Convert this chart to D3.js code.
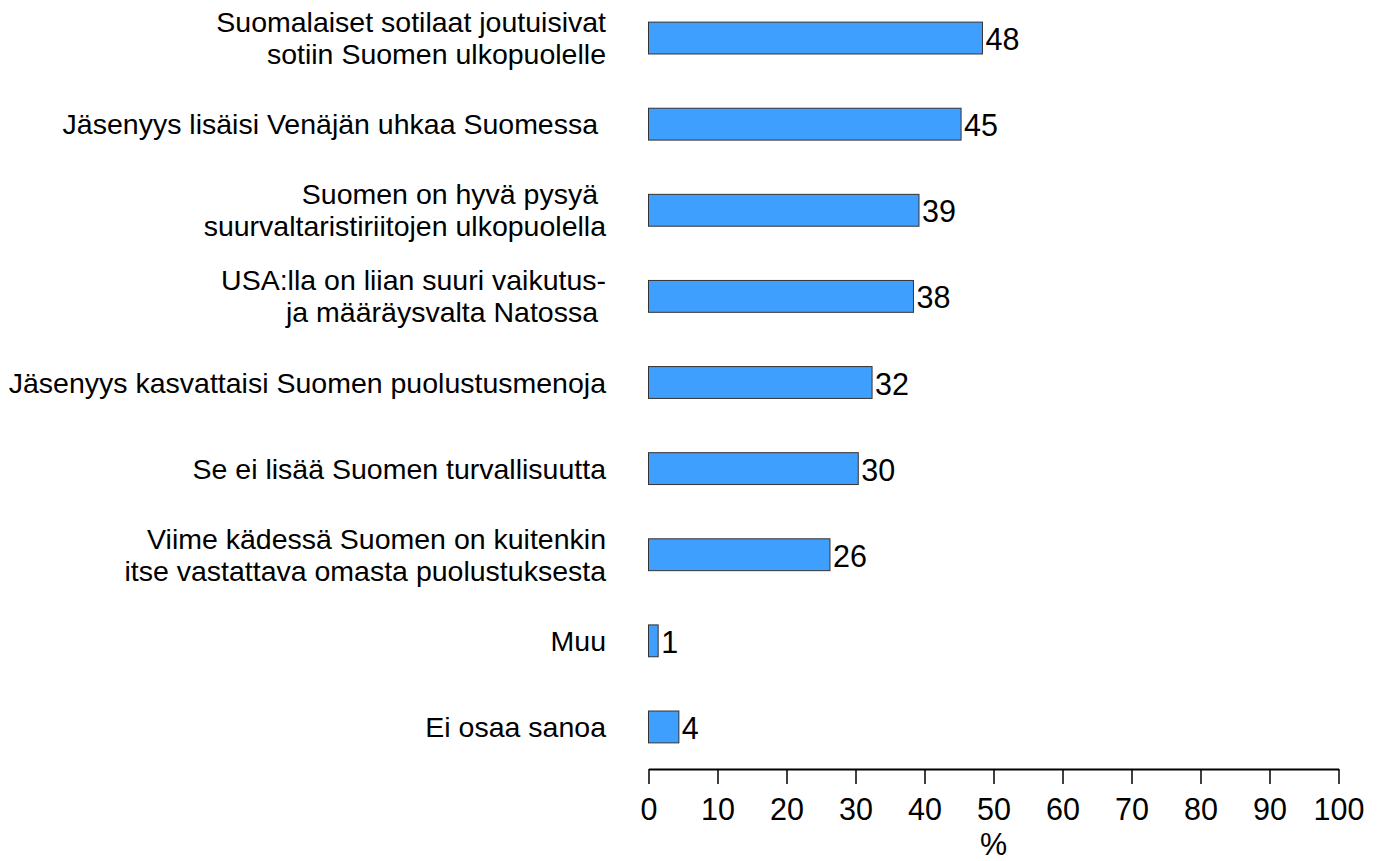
<!DOCTYPE html>
<html>
<head>
<meta charset="utf-8">
<script src="https://cdn.jsdelivr.net/npm/d3@7"></script>
<style>
  body { margin: 0; background: #fff; }
  svg text { font-family: "Liberation Sans", Arial, sans-serif; fill: #000; }
</style>
</head>
<body>
<div id="chart"></div>
<script>
// Kategoriat (rivit), arvot luettu kuvasta
const categories = [
  ["Suomalaiset sotilaat joutuisivat", "sotiin Suomen ulkopuolelle"],
  ["Jäsenyys lisäisi Venäjän uhkaa Suomessa "],
  ["Suomen on hyvä pysyä ", "suurvaltaristiriitojen ulkopuolella"],
  ["USA:lla on liian suuri vaikutus-", "ja määräysvalta Natossa "],
  ["Jäsenyys kasvattaisi Suomen puolustusmenoja"],
  ["Se ei lisää Suomen turvallisuutta"],
  ["Viime kädessä Suomen on kuitenkin", "itse vastattava omasta puolustuksesta"],
  ["Muu"],
  ["Ei osaa sanoa"]
];
const values = [48.4, 45.3, 39.2, 38.4, 32.4, 30.4, 26.3, 1.4, 4.4];
const tickLabels = [0, 10, 20, 30, 40, 50, 60, 70, 80, 90, 100];
const axisTitle = "%";

const width = 1381, height = 861;
const fontSize = 28.5;   // kategoriat
const numSize = 30.5;    // luvut ja akseli

const svg = d3.select("#chart").append("svg")
  .attr("width", width)
  .attr("height", height);

const data = categories.map((c, i) => ({ key: i, lines: c, value: values[i] }));

const x = d3.scaleLinear().domain([0, 100]).range([648.5, 1338.5]);
const y = d3.scaleBand()
  .domain(data.map(d => d.key))
  .range([-5, 770])
  .paddingInner(0.63)
  .paddingOuter(0.315);

// Palkit
svg.selectAll("rect.bar")
  .data(data)
  .enter().append("rect")
  .attr("class", "bar")
  .attr("x", x(0))
  .attr("y", d => y(d.key))
  .attr("width", d => x(d.value) - x(0))
  .attr("height", y.bandwidth())
  .style("fill", "#3f9fff")
  .style("stroke", "#333")
  .style("stroke-width", 1);

// Arvot palkkien perään
svg.selectAll("text.val")
  .data(data)
  .enter().append("text")
  .attr("class", "val")
  .attr("x", d => x(d.value) + 3)
  .attr("y", d => y(d.key) + y.bandwidth() / 2 + 12)
  .style("font-size", numSize + "px")
  .text(d => d3.format(".0f")(d.value));

// Kategorioiden nimet
const labels = svg.selectAll("text.cat")
  .data(data)
  .enter().append("text")
  .attr("class", "cat")
  .attr("text-anchor", "end")
  .style("font-size", fontSize + "px")
  .style("white-space", "pre");

labels.selectAll("tspan")
  .data(d => d.lines.map((l, j) => ({ l, j, n: d.lines.length, c: y(d.key) + y.bandwidth() / 2 })))
  .enter().append("tspan")
  .attr("x", 606)
  .attr("y", t => t.c + 10 + (t.j - (t.n - 1) / 2) * 32)
  .text(t => t.l);

// X-akseli
const xAxis = d3.axisBottom(x)
  .tickValues(tickLabels)
  .tickSize(15)
  .tickSizeOuter(0)
  .tickPadding(0);

const gx = svg.append("g")
  .attr("transform", "translate(0,769)")
  .call(xAxis);

gx.select(".domain").style("stroke", "#000").style("stroke-width", 2);
gx.selectAll(".tick line").style("stroke", "#000").style("stroke-width", 1.5);
gx.selectAll(".tick text")
  .attr("y", 51)
  .attr("dy", 0)
  .style("font-size", numSize + "px")
  .style("font-family", "'Liberation Sans', Arial, sans-serif")
  .style("fill", "#000");

svg.append("text")
  .attr("x", x(50))
  .attr("y", 855)
  .attr("text-anchor", "middle")
  .style("font-size", numSize + "px")
  .text(axisTitle);
</script>
</body>
</html>
